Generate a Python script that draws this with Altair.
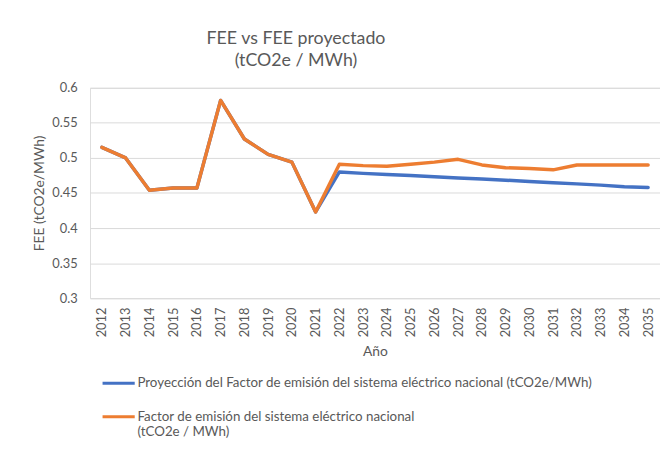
import altair as alt
import pandas as pd

years = [str(y) for y in range(2012, 2036)]
historico = [0.515, 0.500, 0.454, 0.457, 0.457, 0.582, 0.527, 0.505, 0.494, 0.423,
             0.491, 0.489, 0.488, 0.491, 0.494, 0.498, 0.490, 0.486, 0.485, 0.483,
             0.490, 0.490, 0.490, 0.490]
proyeccion = [0.515, 0.500, 0.454, 0.457, 0.457, 0.582, 0.527, 0.505, 0.494, 0.423,
              0.480, 0.478, 0.4765, 0.4748, 0.4733, 0.4714, 0.4700, 0.4682, 0.4664, 0.4647,
              0.4630, 0.4612, 0.4590, 0.4578]
series_names = [
    "Proyección del Factor de emisión del sistema eléctrico nacional (tCO2e/MWh)",
    "Factor de emisión del sistema eléctrico nacional|(tCO2e / MWh)",
]
colors = ["#4472C4", "#ED7D31"]
y_ticks = [0.3, 0.35, 0.4, 0.45, 0.5, 0.55, 0.6]

rows = []
for y, v in zip(years, proyeccion):
    rows.append({"Año": y, "FEE": v, "serie": series_names[0], "orden": 0})
for y, v in zip(years, historico):
    rows.append({"Año": y, "FEE": v, "serie": series_names[1], "orden": 1})
df = pd.DataFrame(rows)

FONT = "Lato"
TXT = "#595959"

chart = alt.Chart(df).mark_line(strokeWidth=3.5, strokeCap="round", strokeJoin="round").encode(
    x=alt.X("Año:O", sort=years,
            scale=alt.Scale(type="point", padding=0.5),
            axis=alt.Axis(labelAngle=-90, labelFontSize=13, labelColor=TXT, labelFont=FONT,
                          ticks=False, domain=False, grid=False, labelPadding=9,
                          title="Año", titleFontSize=14, titleColor=TXT, titleFont=FONT,
                          titleFontWeight="normal", titlePadding=8)),
    y=alt.Y("FEE:Q",
            scale=alt.Scale(domain=[0.3, 0.6], zero=False, nice=False),
            axis=alt.Axis(values=y_ticks, format=".2~f", labelFontSize=13, labelColor=TXT,
                          labelFont=FONT, ticks=False, domain=False, gridColor="#d9d9d9",
                          gridWidth=1, labelPadding=13,
                          title="FEE (tCO2e/MWh)", titleFontSize=14, titleColor=TXT,
                          titleFont=FONT, titleFontWeight="normal", titlePadding=5)),
    color=alt.Color("serie:N", sort=series_names,
                    scale=alt.Scale(domain=series_names, range=colors),
                    legend=alt.Legend(title=None, orient="none", legendX=11, legendY=281,
                                      direction="vertical", symbolType="stroke",
                                      symbolStrokeWidth=3, symbolSize=1060,
                                      labelFont=FONT, labelFontSize=13.5, labelColor=TXT,
                                      labelLimit=600, labelBaseline="middle",
                                      labelExpr="split(datum.label, '|')",
                                      rowPadding=9, labelOffset=1)),
    order=alt.Order("orden:Q"),
).properties(
    width=577, height=213,
    title=alt.TitleParams(["FEE vs FEE proyectado", "(tCO2e / MWh)"], fontSize=18,
                          font=FONT, color=TXT, fontWeight="normal", anchor="middle",
                          dx=-80, offset=12, lineHeight=22),
    padding={"left": 83, "top": 78, "right": 0, "bottom": 159},
    autosize=alt.AutoSizeParams(type="none"),
).configure_view(stroke=None).configure(background="white")

chart.save("out.html", embed_options={"renderer": "svg", "actions": False})
